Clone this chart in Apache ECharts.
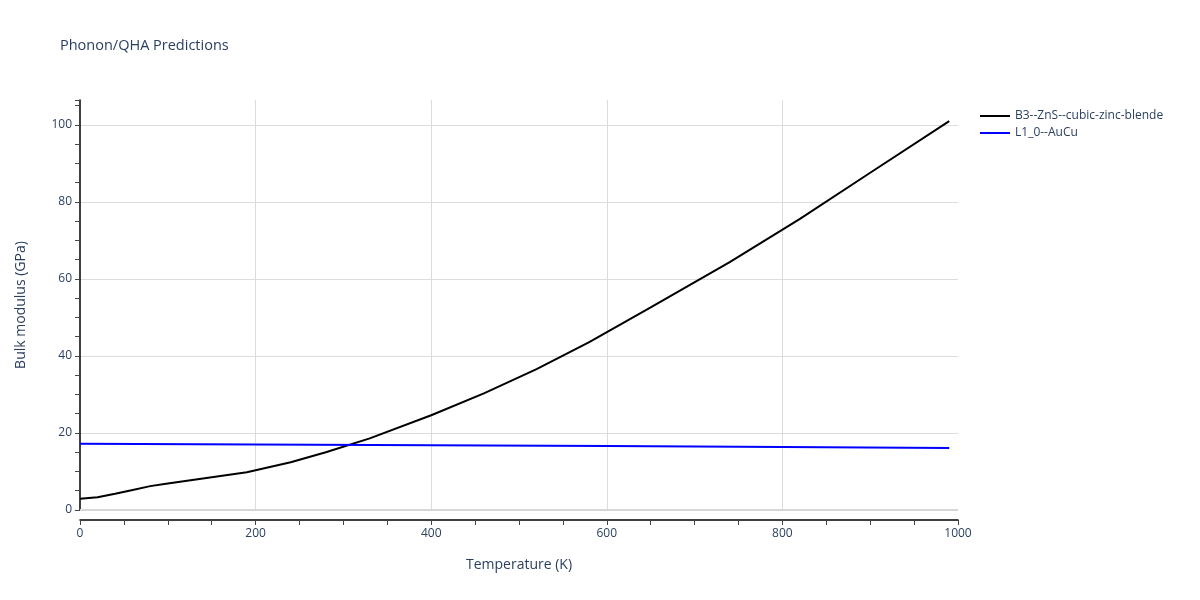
<!DOCTYPE html>
<html><head><meta charset="utf-8">
<script src="https://cdn.jsdelivr.net/npm/echarts@6/dist/echarts.min.js"></script>
<style>html,body{margin:0;padding:0;background:#fff}#c{width:1200px;height:600px}</style>
</head><body><div id="c"></div>
<script>
const titleText = 'Phonon/QHA Predictions';
const xTitle = 'Temperature (K)';
const yTitle = 'Bulk modulus (GPa)';
const seriesNames = ['B3--ZnS--cubic-zinc-blende', 'L1_0--AuCu'];
const znsT = [0, 20, 40, 60, 80, 100, 140, 190, 240, 280, 330, 400, 460, 520, 580, 650, 740, 820, 900, 990];
const znsB = [2.9, 3.3, 4.2, 5.2, 6.2, 6.9, 8.2, 9.8, 12.4, 15.0, 18.6, 24.6, 30.3, 36.6, 43.6, 52.6, 64.4, 75.6, 87.6, 101.0];
const aucuT = [0, 200, 400, 600, 800, 990];
const aucuB = [17.2, 17.0, 16.8, 16.6, 16.35, 16.1];

const font = '"Open Sans", verdana, arial, sans-serif';
const txt = '#2a3f5f';
const chart = echarts.init(document.getElementById('c'));
chart.setOption({
  animation: false,
  textStyle: { fontFamily: font },
  title: { text: titleText, left: 55, top: 33, textStyle: { fontFamily: font, fontSize: 14.5, fontWeight: 'normal', color: txt } },
  legend: {
    orient: 'vertical', left: 975, top: 105, itemWidth: 30, itemHeight: 14, itemGap: 5,
    icon: 'path://M0,6 L30,6 L30,8 L0,8 Z',
    textStyle: { fontFamily: font, fontSize: 12, color: txt },
    data: seriesNames
  },
  grid: { left: 80, right: 242, top: 100, bottom: 90, containLabel: false },
  xAxis: {
    type: 'value', min: 0, max: 1000, interval: 200, offset: 10,
    name: xTitle, nameLocation: 'middle', nameGap: 38,
    nameTextStyle: { fontFamily: font, fontSize: 14, color: txt },
    axisLine: { show: true, onZero: false, lineStyle: { color: '#000', width: 1.5 } },
    axisTick: { show: true, length: 5, lineStyle: { color: '#444' } },
    minorTick: { show: true, splitNumber: 4, length: 5, lineStyle: { color: '#444' } },
    axisLabel: { fontFamily: font, fontSize: 12, color: txt, margin: 8, formatter: v => String(v) },
    splitLine: { show: true, showMinLine: false, showMaxLine: false, lineStyle: { color: '#dcdcdc', width: 1 } }
  },
  yAxis: {
    type: 'value', min: 0, max: 106.49, interval: 20,
    name: yTitle, nameLocation: 'middle', nameGap: 52,
    nameTextStyle: { fontFamily: font, fontSize: 14, color: txt },
    axisLine: { show: true, lineStyle: { color: '#000', width: 1.5 } },
    axisTick: { show: true, length: 5, lineStyle: { color: '#444' } },
    minorTick: { show: true, splitNumber: 4, length: 5, lineStyle: { color: '#444' } },
    axisLabel: { fontFamily: font, fontSize: 12, color: txt, margin: 8, showMaxLabel: false },
    splitLine: { show: true, showMaxLine: false, lineStyle: { color: '#dcdcdc', width: 1 } }
  },
  series: [
    { name: seriesNames[0], type: 'line', showSymbol: false, symbol: 'none', lineStyle: { color: '#000', width: 2 }, itemStyle: { color: '#000' },
      z: 3,
      markLine: { silent: true, symbol: 'none', label: { show: false }, animation: false,
        lineStyle: { color: '#d6d6d6', width: 2, type: 'solid' }, data: [{ yAxis: 0 }] },
      data: znsT.map((t, i) => [t, znsB[i]]) },
    { name: seriesNames[1], type: 'line', showSymbol: false, symbol: 'none', lineStyle: { color: '#0000ff', width: 2 }, itemStyle: { color: '#0000ff' },
      z: 3,
      data: aucuT.map((t, i) => [t, aucuB[i]]) }
  ]
});
</script></body></html>
